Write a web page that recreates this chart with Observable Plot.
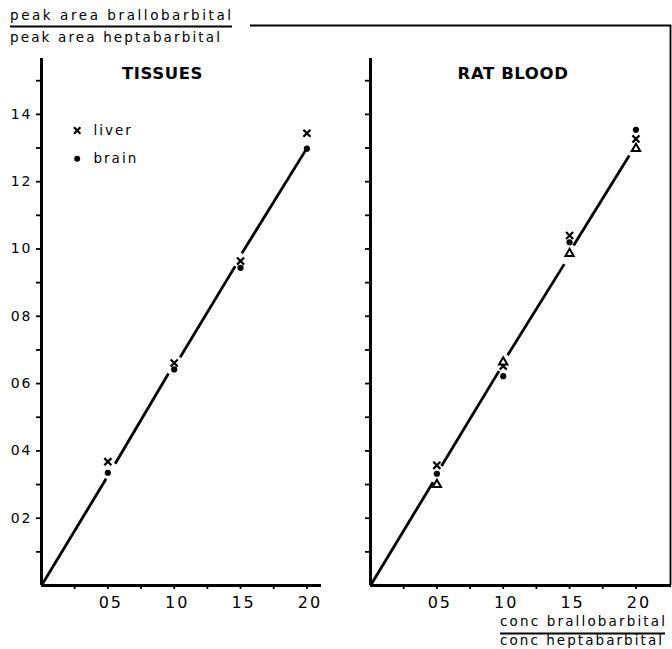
<!DOCTYPE html>
<html><head><meta charset="utf-8">
<script src="https://cdn.jsdelivr.net/npm/d3@7"></script>
<script src="https://cdn.jsdelivr.net/npm/@observablehq/plot@0.6"></script>
<style>
body{margin:0;background:#fff;}
#wrap{position:relative;width:672px;height:649px;overflow:hidden;font-family:"DejaVu Sans",sans-serif;background:#fff;}
#wrap > svg{position:absolute;top:0;}
</style></head><body><div id="wrap"></div>
<script>
// ---- data ----
const conc = [0.5, 1.0, 1.5, 2.0];
// TISSUES panel
const tissueLiver = [0.368, 0.661, 0.964, 1.344];
const tissueBrain = [0.335, 0.642, 0.944, 1.298];
// RAT BLOOD panel
const bloodCross = [0.357, 0.652, 1.040, 1.327];
const bloodDot = [0.332, 0.622, 1.020, 1.354];
const bloodTriangle = [0.300, 0.664, 0.986, 1.298];
// fitted line, drawn in pieces with gaps at the points
const tissueFitX1 = [0, 0.555, 1.045, 1.51];
const tissueFitY1 = [0, 0.362, 0.678, 0.987];
const tissueFitX2 = [0.487, 0.957, 1.46, 1.99];
const tissueFitY2 = [0.317, 0.630, 0.949, 1.293];
const bloodFitX1 = [0, 0.535, 1.033, 1.53];
const bloodFitY1 = [0, 0.355, 0.684, 1.010];
const bloodFitX2 = [0.471, 0.968, 1.46, 1.95];
const bloodFitY2 = [0.307, 0.637, 0.955, 1.278];
// ticks
const yMinorTicks = [0.1,0.2,0.3,0.4,0.5,0.6,0.7,0.8,0.9,1.0,1.1,1.2,1.3,1.4,1.5];
const yTickValues = [0.2,0.4,0.6,0.8,1.0,1.2,1.4];
const yTickLabels = ["02","04","06","08","10","12","14"];
const xMinorTicks = [0.25,0.5,0.75,1.0,1.25,1.5,1.75,2.0];
const xTickValues = [0.5,1.0,1.5,2.0];
const xTickLabels = ["05","10","15","20"];
const panelTitles = ["TISSUES","RAT BLOOD"];
const legendLabels = ["liver","brain"];
const legendSymbols = ["times","circle"];
const yTitle = ["peak area brallobarbital","peak area heptabarbital"];
const xTitle = ["conc brallobarbital","conc heptabarbital"];

const pts = (ys, series) => conc.map((c,i)=>({x:c, y:ys[i], series}));
const segs = (x1,y1,x2,y2) => x1.map((v,i)=>({x1:v,y1:y1[i],x2:x2[i],y2:y2[i]}));

function panel({width, marginLeft, marginRight, xMax, title, titleDx, points, fit, showYLabels, legend}) {
  const marks = [
    Plot.axisY({ticks: yMinorTicks, tickSize: 5, tickFormat: () => "", strokeWidth: 1.8, label: null}),
    Plot.axisX({ticks: xMinorTicks, tickSize: 4, tickFormat: () => "", strokeWidth: 1.8, label: null}),
    Plot.axisX({ticks: xTickValues, tickSize: 0, tickPadding: 11, dx: 3, fontSize: 16,
      tickFormat: d => xTickLabels[xTickValues.indexOf(d)], label: null}),
    Plot.ruleX([0], {strokeWidth: 3}),
    Plot.ruleY([0], {strokeWidth: 3}),
    Plot.link(fit, {x1:"x1", y1:"y1", x2:"x2", y2:"y2", strokeWidth: 2.8, stroke: "black"}),
    Plot.dot(points.filter(d=>d.series==="dot"), {x:"x", y:"y", r: 3.1, fill: "black", stroke: "none"}),
    Plot.dot(points.filter(d=>d.series==="cross"), {x:"x", y:"y", r: 3.3, symbol: "times", stroke: "black", strokeWidth: 2.2}),
    Plot.dot(points.filter(d=>d.series==="triangle"), {x:"x", y:"y", r: 4, symbol: "triangle2", stroke: "black", fill: "white", strokeWidth: 2}),
    Plot.text([title], {frameAnchor: "top", dx: titleDx, dy: 9, lineAnchor: "top", fontSize: 16.5, fontWeight: "bold", style: "letter-spacing:0.6px"})
  ];
  if (showYLabels) marks.unshift(Plot.axisY({ticks: yTickValues, tickSize: 0, tickPadding: 9, fontSize: 14,
      tickFormat: d => yTickLabels[yTickValues.indexOf(d)], label: null}));
  if (legend) {
    legendLabels.forEach((lab, i) => {
      marks.push(Plot.dot([lab], {frameAnchor: "top-left", dx: 35.7, dy: 72 + i*28.3, symbol: legendSymbols[i],
        r: 3, fill: legendSymbols[i]==="times" ? "none" : "black",
        stroke: legendSymbols[i]==="times" ? "black" : "none", strokeWidth: 2.2}));
      marks.push(Plot.text([lab], {frameAnchor: "top-left", dx: 52, dy: 72 + i*28.3, textAnchor: "start", lineAnchor: "middle", fontSize: 13.5}));
    });
  }
  const svg = Plot.plot({
    width, height: 649,
    marginLeft, marginRight, marginTop: 58, marginBottom: 64,
    x: {domain: [0, xMax], label: null},
    y: {domain: [0, 1.566], label: null},
    style: {fontFamily: "DejaVu Sans, sans-serif", color: "black", background: "white", letterSpacing: "2px", overflow: "visible"},
    marks
  });
  return svg;
}

const wrap = document.getElementById("wrap");
const left = panel({width: 330, marginLeft: 41, marginRight: 9, xMax: 2.11, title: panelTitles[0], titleDx: -19,
  points: [...pts(tissueLiver,"cross"), ...pts(tissueBrain,"dot")],
  fit: segs(tissueFitX1,tissueFitY1,tissueFitX2,tissueFitY2), showYLabels: true, legend: true});
left.style.left = "0px";
wrap.appendChild(left);
const right = panel({width: 342, marginLeft: 40, marginRight: 1, xMax: 2.268, title: panelTitles[1], titleDx: -8,
  points: [...pts(bloodCross,"cross"), ...pts(bloodDot,"dot"), ...pts(bloodTriangle,"triangle")],
  fit: segs(bloodFitX1,bloodFitY1,bloodFitX2,bloodFitY2), showYLabels: false, legend: false});
right.style.left = "330px";
wrap.appendChild(right);
// title letter spacing tweak
for (const t of wrap.querySelectorAll("text")) {
  if (panelTitles.includes(t.textContent)) t.style.letterSpacing = "0.6px";
}

// axis titles (fractions) and page frame
const ov = d3.select(wrap).append("svg").attr("width", 672).attr("height", 649)
  .style("left", "0px").style("pointer-events", "none")
  .style("font-family", "DejaVu Sans, sans-serif");
ov.append("path").attr("d", "M250,25.5H670.5V585").attr("fill", "none").attr("stroke", "black").attr("stroke-width", 1.8);
ov.append("text").attr("x", 10).attr("y", 20).attr("font-size", 13.5).attr("textLength", 221).attr("lengthAdjust", "spacing").text(yTitle[0]);
ov.append("line").attr("x1", 10).attr("x2", 232).attr("y1", 26.5).attr("y2", 26.5).attr("stroke", "black").attr("stroke-width", 1.8);
ov.append("text").attr("x", 10).attr("y", 41.5).attr("font-size", 13.5).attr("textLength", 210).attr("lengthAdjust", "spacing").text(yTitle[1]);
ov.append("text").attr("x", 500).attr("y", 625.5).attr("font-size", 13.5).attr("textLength", 165).attr("lengthAdjust", "spacing").text(xTitle[0]);
ov.append("line").attr("x1", 500).attr("x2", 665).attr("y1", 633.5).attr("y2", 633.5).attr("stroke", "black").attr("stroke-width", 1.8);
ov.append("text").attr("x", 500).attr("y", 645).attr("font-size", 13.5).attr("textLength", 162).attr("lengthAdjust", "spacing").text(xTitle[1]);
</script>
</body></html>
